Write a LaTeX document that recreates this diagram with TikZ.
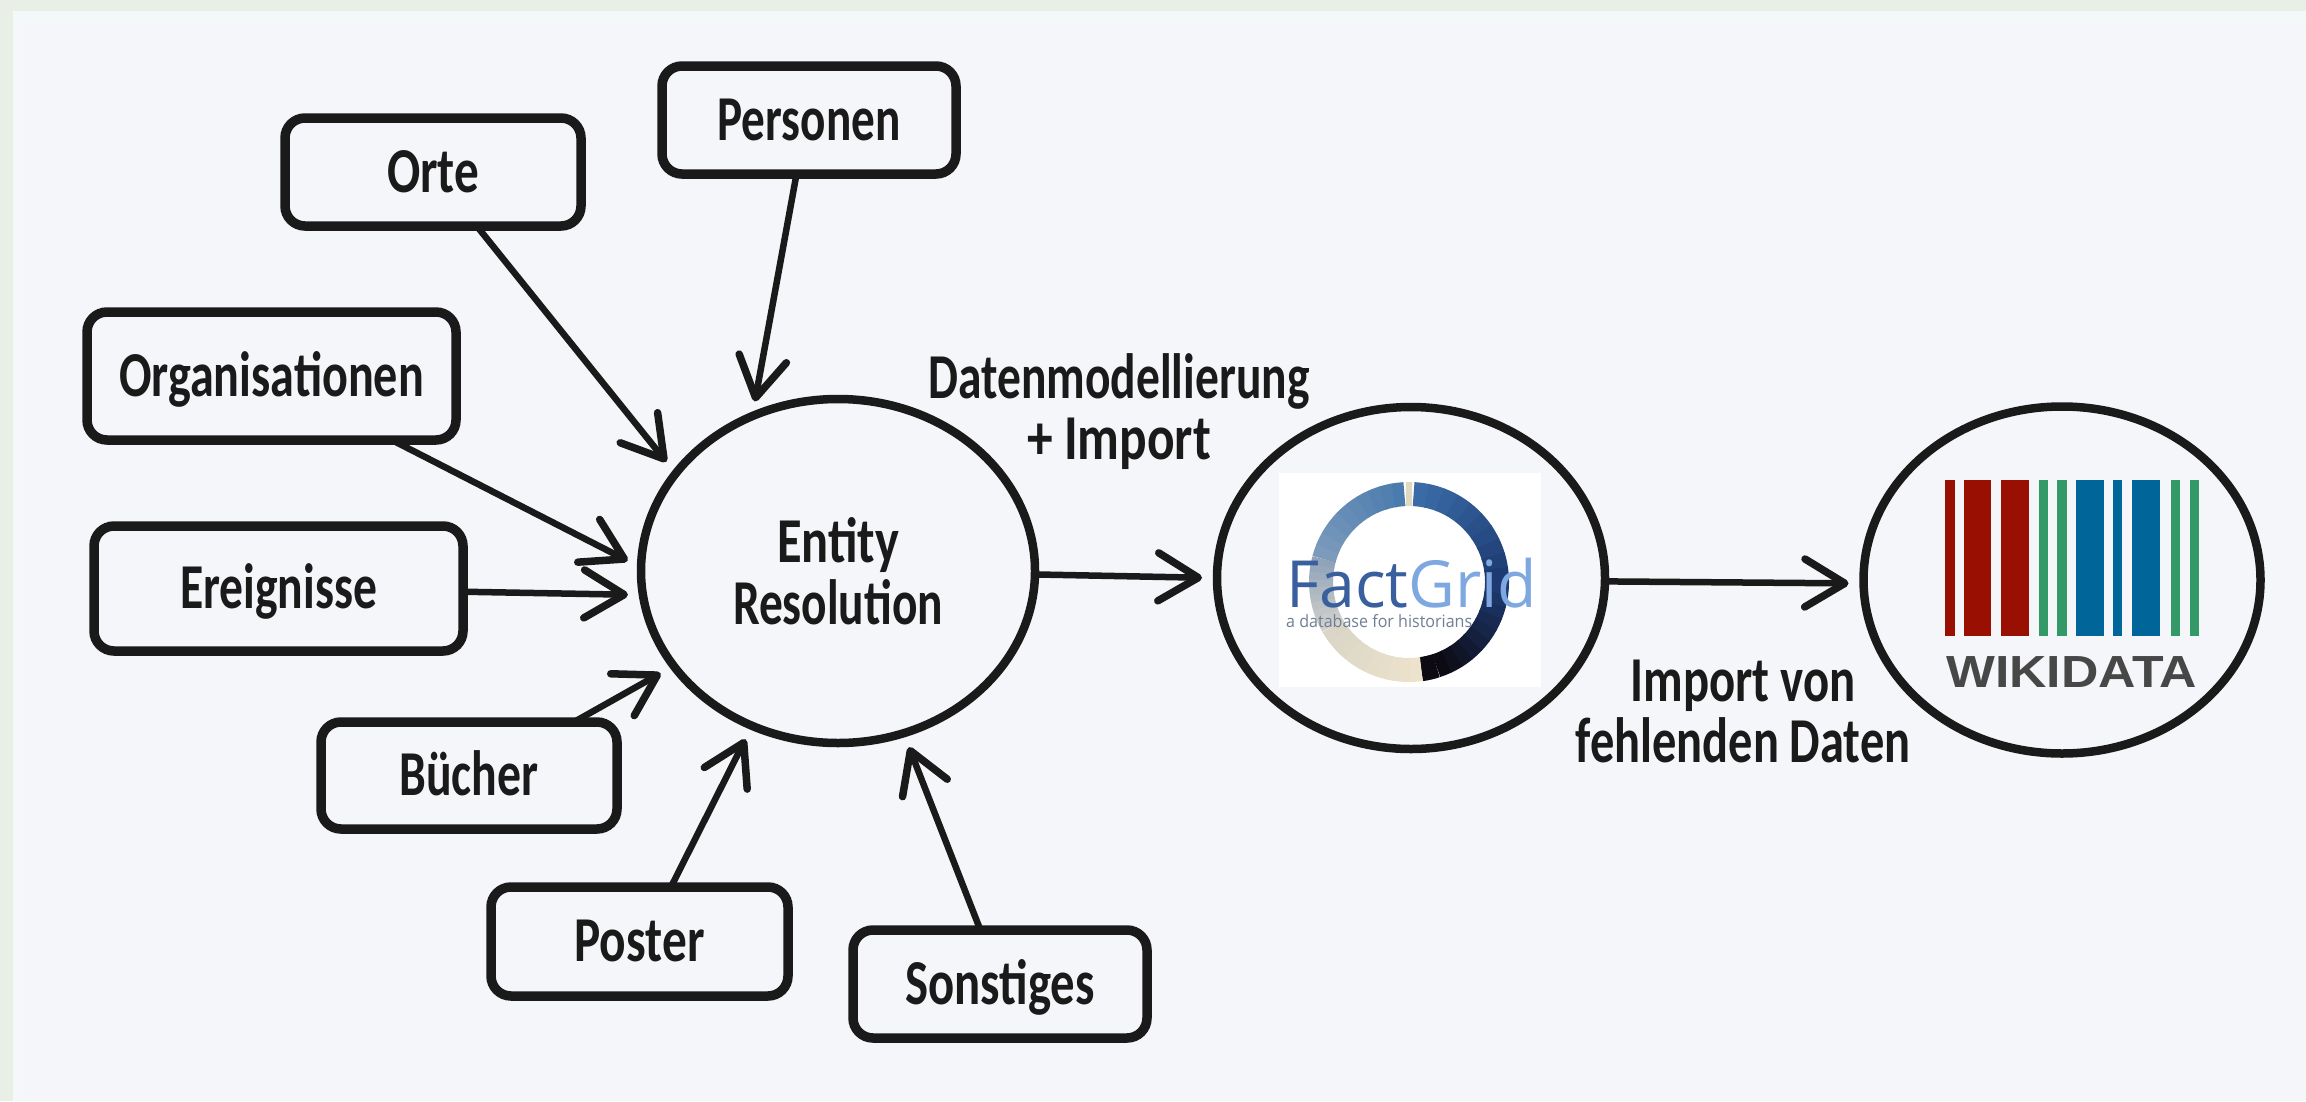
\documentclass[tikz,border=0pt]{standalone}
\usepackage{graphicx}
\usepackage{fontspec}
\usetikzlibrary{arrows.meta,shapes.geometric}
\newfontfamily\handf{Carlito}
\newfontfamily\logof{Open Sans}
\newfontfamily\wikif{Liberation Sans}
\definecolor{ink}{HTML}{1A1A1A}
\definecolor{outerbg}{HTML}{E9EFE6}
\definecolor{edgebg}{HTML}{F3F8F8}
\definecolor{panelbg}{HTML}{F5F6FA}
\definecolor{wred}{HTML}{990F02}
\definecolor{wgreen}{HTML}{339966}
\definecolor{wblue}{HTML}{006699}
\definecolor{ringgap}{HTML}{E0D8C0}
\newcommand\hand[2]{\setbox0=\hbox{#2}\pgfmathsetmacro\handr{#1/\the\wd0}\scalebox{\handr}[1]{#2}}
\tikzset{
  srcbox/.style={draw=ink,line width=9.5pt,rounded corners=20pt,inner sep=0pt,outer sep=0pt,
    text=ink,align=center,text height=40pt,text depth=0pt,
    font=\handf\bfseries\fontsize{64}{62}\selectfont},
  oval/.style={ellipse,draw=ink,line width=8.5pt,inner sep=0pt,outer sep=0pt,text=ink,align=center,
    font=\handf\bfseries\fontsize{64}{62}\selectfont},
  lbl/.style={text=ink,align=center,inner sep=0pt,font=\handf\bfseries\fontsize{64}{61}\selectfont},
  flow/.style={draw=ink,line width=6.5pt,line cap=round,shorten >=15pt,
    -{Straight Barb[length=40pt,width=48pt,line width=7.5pt,round]}}
}
\begin{document}
\begin{tikzpicture}[x=1pt,y=-1pt]
\useasboundingbox (0,0) rectangle (2306,1101);
\fill[outerbg] (0,0) rectangle (2306,1101);
\fill[edgebg] (13,11) rectangle (2306,1101);
\fill[panelbg] (17,23) rectangle (2306,1101);

% source boxes
\node[srcbox,minimum width=294pt,minimum height=108pt] (personen) at (809,120) {\hand{183}{Personen}};
\node[srcbox,minimum width=296pt,minimum height=108pt] (orte) at (433,172) {\hand{92}{Orte}};
\node[srcbox,minimum width=369pt,minimum height=128pt] (org) at (271.5,376) {\hand{305}{Organisationen}};
\node[srcbox,minimum width=369pt,minimum height=125pt] (ereignisse) at (278.5,588.5) {\hand{197}{Ereignisse}};
\node[srcbox,minimum width=296pt,minimum height=107pt] (buecher) at (469,775.5) {\hand{139}{Bücher}};
\node[srcbox,minimum width=297pt,minimum height=109pt] (poster) at (639.5,941.5) {\hand{130}{Poster}};
\node[srcbox,minimum width=294pt,minimum height=108pt] (sonstiges) at (1000,984) {\hand{189}{Sonstiges}};

% ovals
\node[oval,minimum width=394pt,minimum height=344pt] (entity) at (838,571)
  {\hand{122}{Entity}\\\hand{210}{Resolution}};
\node[oval,minimum width=388pt,minimum height=342pt] (factgrid) at (1411,578) {};
\node[oval,minimum width=397pt,minimum height=347pt] (wikidata) at (2062,580) {};

% FactGrid logo
\fill[white] (1279,473) rectangle (1541,687);
\begin{scope}[shift={(1409,582)},yscale=-1]
  \foreach \a/\b/\ca/\cb in {
     87/0/3A6BA6/1D3A72,
     0/-72/1D3A72/0D0A12,
     -72/-82/0D0A12/0D0A12,
     -82/-150/EDE3CC/DAD5C6,
     -150/-195/D0D0CC/8FA3B8,
     -195/-267/7B9ABC/4A7BAE}{
    \definecolor{ca}{HTML}{\ca}\definecolor{cb}{HTML}{\cb}
    \pgfmathsetmacro\arcspan{\a-\b}
    \foreach \i in {0,...,9}{
      \pgfmathsetmacro\pc{100-\i*11}
      \pgfmathsetmacro\sa{\a-\arcspan*\i/10}
      \pgfmathsetmacro\ea{\a-\arcspan*(\i+1)/10-(\i<9?0.6:0)}
      \draw[line width=24pt,color=ca!\pc!cb] (\sa:88) arc[start angle=\sa,end angle=\ea,radius=88];
    }
  }
  \draw[line width=24pt,color=ringgap] (88:88) arc[start angle=88,end angle=92,radius=88];
\end{scope}
\node[inner sep=0pt,anchor=base west] (fgtext) at (1286,607)
  {\logof\fontsize{65}{65}\selectfont\hand{251}{\textcolor[HTML]{3A5F9F}{Fact}\textcolor[HTML]{7FA8E0}{Grid}}};
\node[inner sep=0pt,anchor=base west] (fgsub) at (1286,627)
  {\logof\fontsize{17}{17}\selectfont\color[HTML]{6F7F95}\hand{186}{a database for historians}};

% Wikidata logo
\foreach \xa/\xb/\col in {1945/1955/wred,1964/1991/wred,2001/2029/wred,
   2039/2048/wgreen,2057/2067/wgreen,
   2076/2103.5/wblue,2113/2122/wblue,2132/2160/wblue,
   2171/2180/wgreen,2190/2199/wgreen}
  \fill[\col] (\xa,480) rectangle (\xb,636);
\node[inner sep=0pt,anchor=base west,text=black!72] (wdtext) at (1946,687)
  {\wikif\bfseries\fontsize{45}{45}\selectfont\hand{251}{WIKIDATA}};

% labels
\node[lbl] (lmodel) at (1119,412) {\hand{381}{Datenmodellierung}\\\hand{184}{+ Import}};
\node[lbl] (limport) at (1743,711) {\hand{225}{Import von}\\\hand{335}{fehlenden Daten}};

% connectors
\draw[flow] (personen.257.4) -- (entity.119.7);
\draw[flow] (orte.-51) -- (entity.149.7);
\draw[flow] (org.-28.8) -- (entity.179.5);
\draw[flow] (ereignisse.-1) -- (entity.187);
\draw[flow] (buecher.27.2) -- (entity.210.5);
\draw[flow] (poster.60.2) -- (entity.241.6);
\draw[flow] (sonstiges.110) -- (entity.-68);
\draw[flow] (entity.-1.4) -- (factgrid.180);
\draw[flow] (factgrid.-1) -- (wikidata.181);
\end{tikzpicture}
\end{document}
